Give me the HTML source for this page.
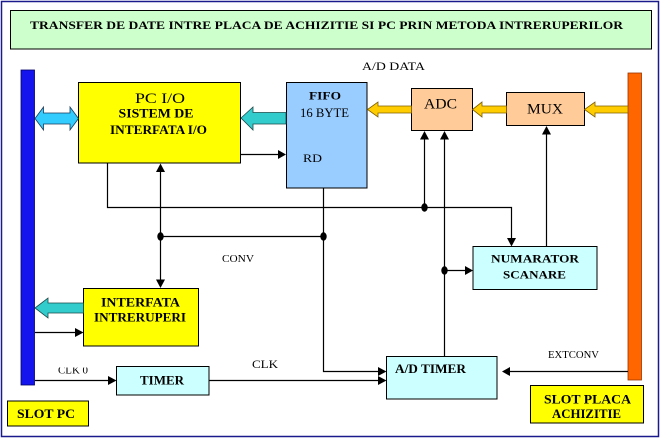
<!DOCTYPE html>
<html>
<head>
<meta charset="utf-8">
<style>
  html, body { margin:0; padding:0; background:#fff; }
  svg { display:block; }
  text { font-family: "Liberation Serif", "DejaVu Serif", serif; fill:#000; }
  .b { font-weight:bold; }
</style>
</head>
<body>
<svg width="661" height="439" viewBox="0 0 661 439" xmlns="http://www.w3.org/2000/svg">
  <defs>
    <clipPath id="clk0clip"><rect x="50" y="367.5" width="50" height="10"/></clipPath>
  </defs>
  <!-- background & outer frame -->
  <rect x="0" y="0" width="661" height="439" fill="#ffffff"/>
  <rect x="1.5" y="1.5" width="657" height="435" fill="none" stroke="#1a1a8c" stroke-width="1.5"/>

  <!-- Title -->
  <rect x="10.5" y="10.5" width="641" height="38.5" fill="#ccffcc" stroke="#000" stroke-width="1"/>
  <text class="b" x="30" y="29" font-size="12" textLength="593" lengthAdjust="spacingAndGlyphs">TRANSFER DE DATE INTRE  PLACA DE ACHIZITIE SI PC PRIN METODA  INTRERUPERILOR</text>

  <!-- Slot bars -->
  <rect x="21" y="70" width="13.5" height="315" fill="#1414ee" stroke="#000066" stroke-width="0.8"/>
  <rect x="628" y="73" width="13.5" height="307" fill="#ff6600" stroke="#993300" stroke-width="0.8"/>

  <!-- A/D DATA label -->
  <text x="362" y="70" font-size="12" textLength="63" lengthAdjust="spacingAndGlyphs">A/D DATA</text>

  <!-- PC I/O box -->
  <rect x="78.5" y="82.5" width="162" height="80.5" fill="#ffff00" stroke="#000" stroke-width="1"/>
  <text x="160" y="103" font-size="15" text-anchor="middle" textLength="50" lengthAdjust="spacingAndGlyphs">PC  I/O</text>
  <text class="b" x="156" y="117.5" font-size="12.5" text-anchor="middle" textLength="75" lengthAdjust="spacingAndGlyphs">SISTEM DE</text>
  <text class="b" x="158.5" y="134" font-size="12.5" text-anchor="middle" textLength="97" lengthAdjust="spacingAndGlyphs">INTERFATA I/O</text>

  <!-- FIFO box -->
  <rect x="286.5" y="82.5" width="80.5" height="105.5" fill="#99ccff" stroke="#000" stroke-width="1"/>
  <text class="b" x="325" y="99.5" font-size="12" text-anchor="middle" textLength="32" lengthAdjust="spacingAndGlyphs">FIFO</text>
  <text x="324.5" y="117" font-size="13" text-anchor="middle" textLength="49" lengthAdjust="spacingAndGlyphs">16 BYTE</text>
  <text x="303" y="162" font-size="12" textLength="19" lengthAdjust="spacingAndGlyphs">RD</text>

  <!-- ADC box -->
  <rect x="411.5" y="88.5" width="61" height="42" fill="#ffcc99" stroke="#000" stroke-width="1"/>
  <text x="440.5" y="108.5" font-size="15" text-anchor="middle" textLength="33" lengthAdjust="spacingAndGlyphs">ADC</text>

  <!-- MUX box -->
  <rect x="506.5" y="92.5" width="78" height="33" fill="#ffcc99" stroke="#000" stroke-width="1"/>
  <text x="545" y="113.5" font-size="15" text-anchor="middle" textLength="36" lengthAdjust="spacingAndGlyphs">MUX</text>

  <!-- NUMARATOR SCANARE box -->
  <rect x="473" y="246.5" width="124" height="43" fill="#ccffff" stroke="#000" stroke-width="1"/>
  <text class="b" x="535" y="262.5" font-size="12" text-anchor="middle" textLength="88" lengthAdjust="spacingAndGlyphs">NUMARATOR</text>
  <text class="b" x="534.5" y="278.5" font-size="12" text-anchor="middle" textLength="63" lengthAdjust="spacingAndGlyphs">SCANARE</text>

  <!-- INTERFATA INTRERUPERI box -->
  <rect x="83.5" y="288.5" width="115" height="57.5" fill="#ffff00" stroke="#000" stroke-width="1"/>
  <text class="b" x="140.5" y="306.5" font-size="12.5" text-anchor="middle" textLength="79" lengthAdjust="spacingAndGlyphs">INTERFATA</text>
  <text class="b" x="140" y="321.5" font-size="12.5" text-anchor="middle" textLength="92" lengthAdjust="spacingAndGlyphs">INTRERUPERI</text>

  <!-- TIMER box -->
  <rect x="116.5" y="366.5" width="92.5" height="28.5" fill="#ccffff" stroke="#000" stroke-width="1"/>
  <text class="b" x="162" y="384.5" font-size="12.5" text-anchor="middle" textLength="44" lengthAdjust="spacingAndGlyphs">TIMER</text>

  <!-- A/D TIMER box -->
  <rect x="386.5" y="356.5" width="110.5" height="42.5" fill="#ccffff" stroke="#000" stroke-width="1"/>
  <text class="b" x="395" y="373" font-size="12.5" textLength="71" lengthAdjust="spacingAndGlyphs">A/D TIMER</text>

  <!-- SLOT boxes -->
  <rect x="7.5" y="401" width="81" height="25" fill="#ffff00" stroke="#000" stroke-width="1"/>
  <text class="b" x="46" y="418" font-size="13" text-anchor="middle" textLength="58" lengthAdjust="spacingAndGlyphs">SLOT  PC</text>
  <rect x="530.5" y="385.5" width="113" height="37.5" fill="#ffff00" stroke="#000" stroke-width="1"/>
  <text class="b" x="587.5" y="403.5" font-size="13" text-anchor="middle" textLength="87" lengthAdjust="spacingAndGlyphs">SLOT  PLACA</text>
  <text class="b" x="586.5" y="418" font-size="13" text-anchor="middle" textLength="69" lengthAdjust="spacingAndGlyphs">ACHIZITIE</text>

  <!-- Block arrows -->
  <polygon points="35,118.5 43.5,107 43.5,113 70,113 70,107 78.5,118.5 70,130 70,124 43.5,124 43.5,130"
           fill="#33ccff" stroke="#1a3a5a" stroke-width="0.8"/>
  <polygon points="241,118 253,107 253,112.5 286,112.5 286,124 253,124 253,130"
           fill="#33cccc" stroke="#1a4a4a" stroke-width="0.8"/>
  <polygon points="35,308 48,298 48,303 83.5,303 83.5,313 48,313 48,318"
           fill="#33cccc" stroke="#1a4a4a" stroke-width="0.8"/>
  <polygon points="367.5,109.5 378,102 378,106 411.5,106 411.5,113 378,113 378,117"
           fill="#ffcc00" stroke="#806000" stroke-width="0.8"/>
  <polygon points="472.5,109.5 482,102 482,106 506.5,106 506.5,113 482,113 482,117"
           fill="#ffcc00" stroke="#806000" stroke-width="0.8"/>
  <polygon points="584.5,109.5 595,102 595,106 628,106 628,113 595,113 595,117"
           fill="#ffcc00" stroke="#806000" stroke-width="0.8"/>

  <!-- Connector lines -->
  <g stroke="#000" stroke-width="1.2" fill="none">
    <line x1="240.5" y1="154.5" x2="280" y2="154.5"/>
    <polyline points="107.5,163 107.5,207.5 511.5,207.5 511.5,239"/>
    <line x1="424.5" y1="207.5" x2="424.5" y2="138"/>
    <line x1="444.5" y1="356.5" x2="444.5" y2="138"/>
    <line x1="444.5" y1="270.5" x2="466" y2="270.5"/>
    <line x1="546.5" y1="246.5" x2="546.5" y2="133"/>
    <line x1="160.5" y1="170" x2="160.5" y2="280"/>
    <line x1="160.5" y1="236.5" x2="323.5" y2="236.5"/>
    <polyline points="323.5,188 323.5,371.5 379,371.5"/>
    <line x1="35" y1="332.5" x2="76" y2="332.5"/>
    <line x1="35" y1="380.5" x2="109" y2="380.5"/>
    <line x1="209" y1="380.5" x2="379" y2="380.5"/>
    <line x1="628" y1="371.5" x2="509" y2="371.5"/>
  </g>

  <!-- Arrowheads -->
  <g fill="#000">
    <polygon points="286,154.5 278,150 278,159"/>
    <polygon points="511.5,246.5 507,238 516,238"/>
    <polygon points="424.5,131 420,139.5 429,139.5"/>
    <polygon points="444.5,131 440,139.5 449,139.5"/>
    <polygon points="473,270.5 465,266 465,275"/>
    <polygon points="546.5,126 542,134.5 551,134.5"/>
    <polygon points="160.5,163.5 156,172 165,172"/>
    <polygon points="160.5,288 156,279.5 165,279.5"/>
    <polygon points="386.5,371.5 378,367 378,376"/>
    <polygon points="386.5,380.5 378,376 378,385"/>
    <polygon points="83.5,332.5 75,328 75,337"/>
    <polygon points="116.5,380.5 108,376 108,385"/>
    <polygon points="502,371.5 510,367 510,376"/>
  </g>

  <!-- Junction dots -->
  <g fill="#000">
    <ellipse cx="424.5" cy="207.5" rx="3.2" ry="4.2"/>
    <ellipse cx="160.5" cy="236.5" rx="3.2" ry="4.2"/>
    <ellipse cx="323.5" cy="236.5" rx="3.2" ry="4.2"/>
    <ellipse cx="444.5" cy="270.5" rx="3.2" ry="4.2"/>
  </g>

  <!-- Line labels -->
  <text x="222" y="262" font-size="11" textLength="32" lengthAdjust="spacingAndGlyphs">CONV</text>
  <text x="252" y="368" font-size="12" textLength="26" lengthAdjust="spacingAndGlyphs">CLK</text>
  <text x="548" y="358" font-size="10" textLength="51" lengthAdjust="spacingAndGlyphs">EXTCONV</text>
  <text x="58" y="373.5" font-size="10" textLength="30" lengthAdjust="spacingAndGlyphs" clip-path="url(#clk0clip)">CLK 0</text>
</svg>
</body>
</html>
